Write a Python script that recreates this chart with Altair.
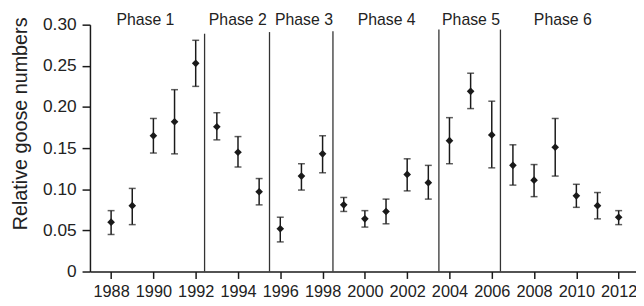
import altair as alt
import pandas as pd

years = list(range(1988, 2013))
means = [0.060, 0.080, 0.165, 0.182, 0.253, 0.176, 0.145, 0.097, 0.052, 0.116,
         0.143, 0.081, 0.064, 0.073, 0.118, 0.108, 0.159, 0.219, 0.166, 0.129,
         0.111, 0.151, 0.092, 0.080, 0.066]
upper = [0.074, 0.101, 0.186, 0.221, 0.281, 0.193, 0.164, 0.113, 0.066, 0.131,
         0.165, 0.090, 0.074, 0.088, 0.137, 0.129, 0.187, 0.241, 0.207, 0.154,
         0.130, 0.186, 0.106, 0.096, 0.074]
lower = [0.045, 0.057, 0.144, 0.143, 0.225, 0.160, 0.127, 0.081, 0.036, 0.099,
         0.120, 0.073, 0.054, 0.058, 0.098, 0.088, 0.131, 0.198, 0.126, 0.105,
         0.091, 0.116, 0.078, 0.064, 0.057]

phase_names = ["Phase 1", "Phase 2", "Phase 3", "Phase 4", "Phase 5", "Phase 6"]
phase_label_x = [1989.62, 1993.99, 1997.12, 2001.03, 2005.02, 2009.36]
phase_label_y = [0.299] * 6
boundaries = [1992.42, 1995.49, 1998.49, 2003.5, 2006.41]
boundary_top = [0.289, 0.291, 0.292, 0.294, 0.294]

x_ticks = list(range(1988, 2013, 2))
y_ticks = [0, 0.05, 0.10, 0.15, 0.20, 0.25, 0.30]

FONT = "Liberation Sans"
INK = "#1a1a1a"

df = pd.DataFrame({"year": years, "mean": means, "upper": upper, "lower": lower})
df_phase = pd.DataFrame({"x": phase_label_x, "y": phase_label_y, "label": phase_names})
df_bound = pd.DataFrame({"x": boundaries, "top": boundary_top, "bottom": [0.0] * 5})

xscale = alt.Scale(domain=[1987, 2012.82], nice=False, zero=False)
yscale = alt.Scale(domain=[0, 0.30], nice=False, zero=True)

xaxis = alt.Axis(values=x_ticks, format="d", title=None, tickSize=7,
                 labelPadding=5, labelFontSize=16.5, labelFlush=False,
                 labelOverlap=False)
yaxis = alt.Axis(values=y_ticks, title="Relative goose numbers",
                 labelExpr="datum.value == 0 ? '0' : format(datum.value, '.2f')",
                 tickSize=8, labelPadding=6, labelFontSize=17.5,
                 titleFontSize=20, titleFontWeight="normal",
                 titleX=-64, titleY=100, titleBaseline="alphabetic",
                 titleAngle=270)

bars = alt.Chart(df).mark_rule(color=INK, strokeWidth=1.5).encode(
    x=alt.X("year:Q", scale=xscale, axis=xaxis),
    y=alt.Y("lower:Q", scale=yscale, axis=yaxis),
    y2="upper:Q",
)
cap_top = alt.Chart(df).mark_tick(color=INK, orient="horizontal", size=7, thickness=1.5).encode(
    x=alt.X("year:Q", scale=xscale, axis=xaxis),
    y=alt.Y("upper:Q", scale=yscale, axis=yaxis),
)
cap_bot = alt.Chart(df).mark_tick(color=INK, orient="horizontal", size=7, thickness=1.5).encode(
    x=alt.X("year:Q", scale=xscale, axis=xaxis),
    y=alt.Y("lower:Q", scale=yscale, axis=yaxis),
)
points = alt.Chart(df).mark_point(shape="diamond", filled=True, size=60, color=INK, opacity=1).encode(
    x=alt.X("year:Q", scale=xscale, axis=xaxis),
    y=alt.Y("mean:Q", scale=yscale, axis=yaxis),
)
bounds = alt.Chart(df_bound).mark_rule(color="#333333", strokeWidth=1.3).encode(
    x=alt.X("x:Q", scale=xscale, axis=xaxis),
    y=alt.Y("bottom:Q", scale=yscale, axis=yaxis),
    y2="top:Q",
)
labels = alt.Chart(df_phase).mark_text(font=FONT, fontSize=16, color="#222222",
                                       baseline="alphabetic", align="center").encode(
    x=alt.X("x:Q", scale=xscale, axis=xaxis),
    y=alt.Y("y:Q", scale=yscale, axis=yaxis),
    text="label:N",
)

chart = alt.layer(bounds, bars, cap_top, cap_bot, points, labels).properties(
    width=553, height=250,
    autosize=alt.AutoSizeParams(type="none"),
    padding={"left": 83, "top": 15, "right": 0, "bottom": 30},
).configure_view(stroke=None).configure_axis(
    grid=False, domainColor=INK, tickColor=INK, domainWidth=1.5, tickWidth=1.5,
    labelColor="#222222", titleColor="#222222", labelFont=FONT, titleFont=FONT,
)

chart.save("out.html", embed_options={"renderer": "svg", "actions": False})
